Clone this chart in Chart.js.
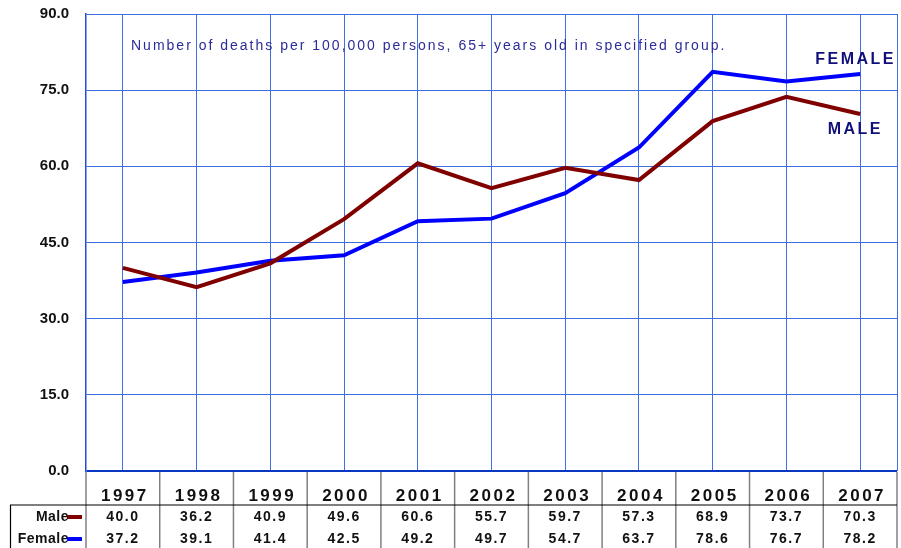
<!DOCTYPE html>
<html>
<head>
<meta charset="utf-8">
<script src="https://cdn.jsdelivr.net/npm/chart.js@4"></script>
<style>
  html, body { margin: 0; padding: 0; background: #fff; }
  #wrap { width: 901px; height: 548px; }
</style>
</head>
<body>
<div id="wrap"><canvas id="deathChart" width="901" height="548"></canvas></div>
<script>
var years = ['1997', '1998', '1999', '2000', '2001', '2002', '2003', '2004', '2005', '2006', '2007'];
var male = [40.0, 36.2, 40.9, 49.6, 60.6, 55.7, 59.7, 57.3, 68.9, 73.7, 70.3];
var female = [37.2, 39.1, 41.4, 42.5, 49.2, 49.7, 54.7, 63.7, 78.6, 76.7, 78.2];
var yTicks = [0, 15, 30, 45, 60, 75, 90];
var note = 'Number of deaths per 100,000 persons, 65+ years old in specified group.';

var MALE_COLOR = '#800000';
var FEMALE_COLOR = '#0000ff';
var GRID_COLOR = '#3f6fe0';
var FONT = "'Liberation Sans', Arial, sans-serif";

// draws the data table under the plot, the note and the series labels
var tablePlugin = {
    id: 'dataTable',
    afterDraw: function(chart) {
        var ctx = chart.ctx;
        var area = chart.chartArea;
        var xs = chart.scales.x;
        var half = (xs.getPixelForValue(1) - xs.getPixelForValue(0)) / 2;
        var rowLine = 505, maleY = 517, femaleY = 539, bottom = chart.height;

        ctx.save();
        // right border of the plot
        ctx.strokeStyle = GRID_COLOR;
        ctx.lineWidth = 1;
        ctx.beginPath();
        ctx.moveTo(area.right + 0.5, area.top);
        ctx.lineTo(area.right + 0.5, area.bottom);
        ctx.stroke();

        // column separators
        ctx.strokeStyle = '#808080';
        ctx.lineWidth = 1.5;
        for (var i = 0; i <= years.length; i++) {
            var cx = i < years.length ? xs.getPixelForValue(i) - half : xs.getPixelForValue(i - 1) + half;
            ctx.beginPath();
            ctx.moveTo(cx, area.bottom + 1);
            ctx.lineTo(cx, bottom);
            ctx.stroke();
        }
        // row line + left edge
        ctx.strokeStyle = '#000';
        ctx.lineWidth = 1.2;
        ctx.beginPath();
        ctx.moveTo(10, rowLine);
        ctx.lineTo(area.right, rowLine);
        ctx.moveTo(10.5, rowLine);
        ctx.lineTo(10.5, bottom);
        ctx.stroke();

        ctx.fillStyle = '#111';
        ctx.textAlign = 'center';
        ctx.textBaseline = 'middle';
        ctx.letterSpacing = '2.5px';
        ctx.font = 'bold 17px ' + FONT;
        years.forEach(function(y, i) {
            ctx.fillText(y, xs.getPixelForValue(i) + 2, 496);
        });
        ctx.letterSpacing = '1.5px';
        ctx.font = 'bold 14px ' + FONT;
        male.forEach(function(v, i) {
            ctx.fillText(v.toFixed(1), xs.getPixelForValue(i), maleY);
        });
        female.forEach(function(v, i) {
            ctx.fillText(v.toFixed(1), xs.getPixelForValue(i), femaleY);
        });

        // row legend
        ctx.textAlign = 'right';
        ctx.letterSpacing = '0.5px';
        ctx.fillText('Male', 69, maleY);
        ctx.fillText('Female', 69, femaleY);
        ctx.lineWidth = 4;
        ctx.strokeStyle = MALE_COLOR;
        ctx.beginPath(); ctx.moveTo(67, maleY); ctx.lineTo(82, maleY); ctx.stroke();
        ctx.strokeStyle = FEMALE_COLOR;
        ctx.beginPath(); ctx.moveTo(67, femaleY); ctx.lineTo(82, femaleY); ctx.stroke();

        // note and series labels
        ctx.textAlign = 'left';
        ctx.fillStyle = '#2b2b9b';
        ctx.letterSpacing = '2px';
        ctx.font = '14px ' + FONT;
        ctx.fillText(note, 131, 46);
        ctx.fillStyle = '#10107a';
        ctx.font = 'bold 16px ' + FONT;
        ctx.letterSpacing = '2.5px';
        ctx.textAlign = 'right';
        ctx.fillText('FEMALE', 896, 60);
        ctx.fillText('MALE', 883, 130);
        ctx.restore();
    }
};

new Chart(document.getElementById('deathChart').getContext('2d'), {
    type: 'line',
    data: {
        labels: years,
        datasets: [
            {
                label: 'Male',
                data: male,
                borderColor: MALE_COLOR,
                backgroundColor: MALE_COLOR,
                borderWidth: 4,
                pointRadius: 0,
                tension: 0
            },
            {
                label: 'Female',
                data: female,
                borderColor: FEMALE_COLOR,
                backgroundColor: FEMALE_COLOR,
                borderWidth: 4,
                pointRadius: 0,
                tension: 0
            }
        ]
    },
    options: {
        responsive: false,
        animation: false,
        layout: { padding: { top: 14, right: 4, bottom: 77, left: 0 } },
        plugins: {
            legend: { display: false },
            tooltip: { enabled: false }
        },
        scales: {
            x: {
                offset: true,
                grid: { offset: false, color: GRID_COLOR, lineWidth: 1, drawTicks: false },
                border: { display: false },
                ticks: { display: false }
            },
            y: {
                min: 0,
                max: 90,
                afterFit: function(scale) {
                    scale.width = 86;
                    scale.paddingTop = 0;
                    scale.paddingBottom = 0;
                },
                afterBuildTicks: function(scale) {
                    scale.ticks = yTicks.map(function(v) { return { value: v }; });
                },
                grid: {
                    drawTicks: false,
                    color: function(c) { return c.tick && c.tick.value === 0 ? '#0838c0' : GRID_COLOR; },
                    lineWidth: function(c) { return c.tick && c.tick.value === 0 ? 2 : 1; }
                },
                border: { color: '#2050d0', width: 1.5 },
                ticks: {
                    padding: 17,
                    color: '#111',
                    font: { family: FONT, size: 15, weight: 'bold' },
                    callback: function(v) { return v.toFixed(1); }
                }
            }
        }
    },
    plugins: [tablePlugin]
});
</script>
</body>
</html>
